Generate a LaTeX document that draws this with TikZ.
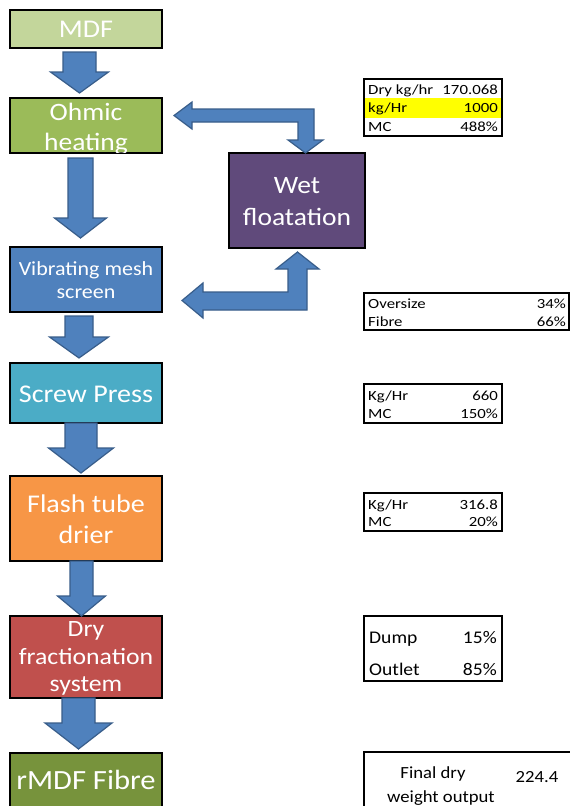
\documentclass[tikz,border=0pt]{standalone}
\usepackage{fontspec}
\setmainfont{Carlito}
\newfontfamily\boxfont[FakeStretch=1.1]{Carlito}
\newfontfamily\tabfont[FakeStretch=1.2]{Carlito}
\definecolor{cMDF}{HTML}{C3D69B}
\definecolor{cOhm}{HTML}{9BBB59}
\definecolor{cVib}{HTML}{4F81BD}
\definecolor{cWet}{HTML}{604A7B}
\definecolor{cScr}{HTML}{4BACC6}
\definecolor{cFla}{HTML}{F79646}
\definecolor{cDry}{HTML}{C0504D}
\definecolor{cFib}{HTML}{77933C}
\definecolor{arrfill}{HTML}{4F81BD}
\definecolor{arredge}{HTML}{385D8A}
\definecolor{hilite}{HTML}{FFFF00}
\newcommand{\fsz}[2]{\fontsize{#1}{#2}\selectfont}
\begin{document}
\begin{tikzpicture}[x=1pt,y=-1pt,
  proc/.style={draw=black,line width=1.4pt,inner sep=0pt},
  ptext/.style={text=white,anchor=base,inner sep=0pt},
  blockarrow/.style={fill=arrfill,draw=arredge,line width=1.2pt,line join=miter},
  tabbox/.style={draw=black,line width=1.2pt,inner sep=0pt},
  tlab/.style={anchor=base west,inner sep=0pt,font=\tabfont\fsz{14}{16}},
  tval/.style={anchor=base east,inner sep=0pt,font=\tabfont\fsz{14}{16}},
  blab/.style={anchor=base west,inner sep=0pt,font=\boxfont\fsz{17.8}{19}},
  bval/.style={anchor=base east,inner sep=0pt,font=\boxfont\fsz{17.8}{19}}]
\clip (0,0) rectangle (570,806);
\fill[white] (0,0) rectangle (570,806);

% ---- process boxes
\node[proc,fill=cMDF,minimum width=152pt,minimum height=38pt] (mdf) at (86,29) {};
\node[ptext,font=\boxfont\fsz{25.5}{30}] (mdft) at (86,37.5) {MDF};

\node[proc,fill=cOhm,minimum width=152pt,minimum height=55pt] (ohm) at (86,125.5) {};
\begin{scope}
\clip (10.7,98.7) rectangle (161.3,152.3);
\node[ptext,font=\boxfont\fsz{25}{30}] (ohmt1) at (86,120) {Ohmic};
\node[ptext,font=\boxfont\fsz{25}{30}] (ohmt2) at (86,150) {heating};
\end{scope}

\node[proc,fill=cVib,minimum width=152pt,minimum height=65pt] (vib) at (86,279.5) {};
\node[ptext,font=\boxfont\fsz{20}{23}] (vibt1) at (86,275) {Vibrating mesh};
\node[ptext,font=\boxfont\fsz{20}{23}] (vibt2) at (86,298) {screen};

\node[proc,fill=cWet,minimum width=136pt,minimum height=95pt] (wet) at (297,200.5) {};
\node[ptext,font=\boxfont\fsz{25}{31}] (wett1) at (297,193) {Wet};
\node[ptext,font=\boxfont\fsz{25}{31}] (wett2) at (297,225) {floatation};

\node[proc,fill=cScr,minimum width=152pt,minimum height=60pt] (scr) at (86,393) {};
\node[ptext,font=\boxfont\fsz{25.5}{31}] (scrt) at (86,402) {Screw Press};

\node[proc,fill=cFla,minimum width=152pt,minimum height=85pt] (fla) at (86,518.5) {};
\node[ptext,font=\boxfont\fsz{25.5}{31}] (flat1) at (86,512) {Flash tube};
\node[ptext,font=\boxfont\fsz{25.5}{31}] (flat2) at (86,543) {drier};

\node[proc,fill=cDry,minimum width=152pt,minimum height=82pt] (dry) at (86,657) {};
\node[ptext,font=\boxfont\fsz{23.4}{28}] (dryt1) at (86,636) {Dry};
\node[ptext,font=\boxfont\fsz{23.4}{28}] (dryt2) at (86,664) {fractionation};
\node[ptext,font=\boxfont\fsz{23.4}{28}] (dryt3) at (86,691) {system};

\node[proc,fill=cFib,minimum width=152pt,minimum height=70pt] (fib) at (86,788) {};
\node[ptext,font=\boxfont\fsz{27.8}{34}] (fibt) at (86,789) {rMDF Fibre};

% ---- straight block arrows (cx, shaft half, head half, top, head y, tip)
\newcommand{\varr}[6]{%
  \filldraw[blockarrow] (#1-#2,#4) -- (#1+#2,#4) -- (#1+#2,#5) -- (#1+#3,#5)
    -- (#1,#6) -- (#1-#3,#5) -- (#1-#2,#5) -- cycle;}
\varr{79.5}{16.5}{29}{52}{72}{93}
\varr{80.5}{12.5}{26}{158}{218}{238}
\varr{79}{14}{29.5}{316}{337}{358}
\varr{81}{16}{32.5}{423}{448}{473}
\varr{81.5}{11.5}{24}{561}{596}{616}
\varr{78.5}{16.5}{33.5}{698}{723}{749}

% ---- bent arrows
\filldraw[blockarrow] (174,115.5) -- (192,102) -- (192,109) -- (314,109) -- (314,140)
  -- (323,140) -- (305.5,153) -- (288,140) -- (298,140) -- (298,122) -- (192,122)
  -- (192,129) -- cycle;
\filldraw[blockarrow] (297.5,252) -- (319,269) -- (307,269) -- (307,310) -- (203,310)
  -- (203,318) -- (182,300.5) -- (203,283) -- (203,292) -- (288,292) -- (288,269)
  -- (276,269) -- cycle;

% ---- data tables
\fill[hilite] (364.6,98) rectangle (501.4,118);
\node[tabbox,minimum width=138pt,minimum height=57pt] (t1) at (433,107.5) {};
\node[tlab] (t1a) at (368,94) {Dry kg/hr};
\node[tval] (t1b) at (498,94) {170.068};
\node[tlab] (t1c) at (368,112.5) {kg/Hr};
\node[tval] (t1d) at (498,112.5) {1000};
\node[tlab] (t1e) at (368,131) {MC};
\node[tval] (t1f) at (498,131) {488\%};

\node[tabbox,minimum width=205pt,minimum height=37pt] (t2) at (466.5,311.5) {};
\node[tlab] (t2a) at (368,308) {Oversize};
\node[tval] (t2b) at (566,308) {34\%};
\node[tlab] (t2c) at (368,326) {Fibre};
\node[tval] (t2d) at (566,326) {66\%};

\node[tabbox,minimum width=138pt,minimum height=39pt] (t3) at (433,403.5) {};
\node[tlab] (t3a) at (368,400) {Kg/Hr};
\node[tval] (t3b) at (498,400) {660};
\node[tlab] (t3c) at (368,418) {MC};
\node[tval] (t3d) at (498,418) {150\%};

\node[tabbox,minimum width=138pt,minimum height=38pt] (t4) at (433,512) {};
\node[tlab] (t4a) at (368,509) {Kg/Hr};
\node[tval] (t4b) at (498,509) {316.8};
\node[tlab] (t4c) at (368,526) {MC};
\node[tval] (t4d) at (498,526) {20\%};

\node[tabbox,minimum width=138pt,minimum height=65pt] (t5) at (433,648.5) {};
\node[blab] (t5a) at (369,643) {Dump};
\node[bval] (t5b) at (497,643) {15\%};
\node[blab] (t5c) at (369,675) {Outlet};
\node[bval] (t5d) at (497,675) {85\%};

\node[tabbox,minimum width=210pt,minimum height=70pt] (t6) at (469,787) {};
\node[anchor=base,inner sep=0pt,font=\boxfont\fsz{17}{19}] (t6a) at (433,778) {Final dry};
\node[anchor=base,inner sep=0pt,font=\boxfont\fsz{17}{19}] (t6b) at (441,802) {weight output};
\node[anchor=base,inner sep=0pt,font=\boxfont\fsz{17}{19}] (t6c) at (537,782) {224.4};
\end{tikzpicture}
\end{document}
